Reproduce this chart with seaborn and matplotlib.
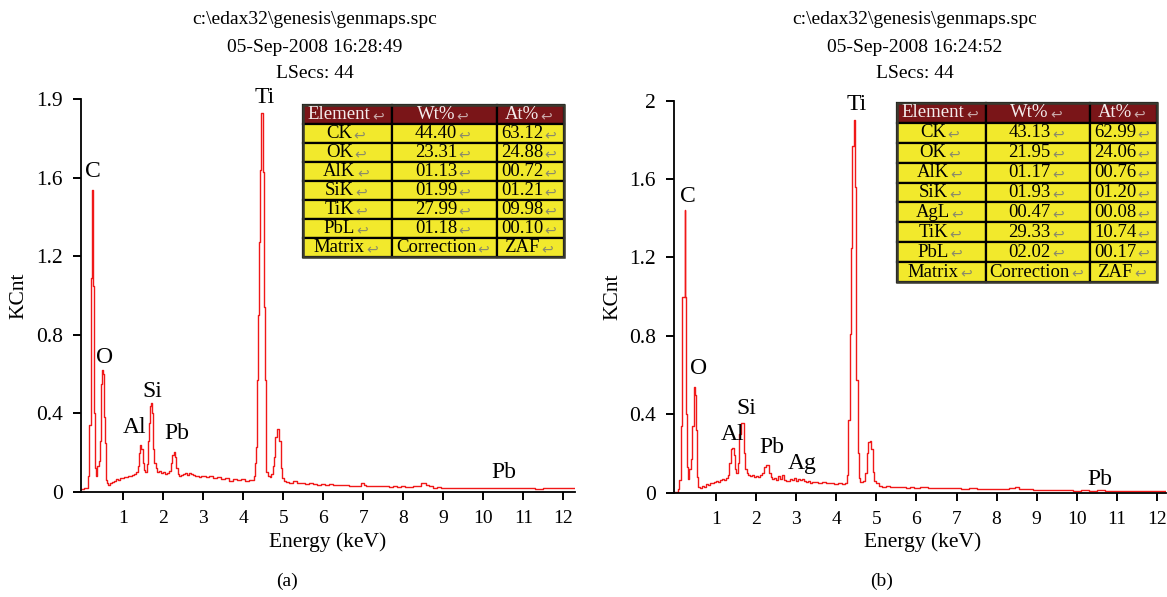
import matplotlib
matplotlib.use("Agg")
import matplotlib.pyplot as plt
import seaborn as sns
from matplotlib.patches import Rectangle

# --- data ---
# (a) spectrum: energy (keV) / counts (KCnt)
energy_a = [-0.05, 0.00, 0.05, 0.10, 0.13, 0.16, 0.20, 0.235, 0.265, 0.29, 0.315, 0.335, 0.365,
            0.40, 0.425, 0.45, 0.475, 0.50, 0.525, 0.55, 0.575, 0.60, 0.65, 0.70, 0.75, 0.80,
            0.85, 0.90, 0.95, 1.00, 1.05, 1.10, 1.15, 1.20, 1.25, 1.30, 1.34, 1.375, 1.40, 1.43,
            1.47, 1.50, 1.53, 1.57, 1.60, 1.63, 1.66, 1.68, 1.71, 1.73, 1.76, 1.79, 1.83, 1.875,
            1.92, 1.97, 2.02, 2.07, 2.12, 2.17, 2.20, 2.24, 2.27, 2.30, 2.34, 2.38, 2.42, 2.47,
            2.52, 2.57, 2.62, 2.67, 2.72, 2.77, 2.82, 2.87, 2.92, 2.97, 3.02, 3.10, 3.20, 3.30,
            3.40, 3.50, 3.60, 3.70, 3.80, 3.90, 4.00, 4.10, 4.20, 4.26, 4.29, 4.31, 4.33, 4.355,
            4.38, 4.40, 4.42, 4.45, 4.48, 4.50, 4.52, 4.545, 4.565, 4.59, 4.63, 4.68, 4.72, 4.75,
            4.78, 4.82, 4.87, 4.91, 4.95, 4.99, 5.03, 5.10, 5.20, 5.30, 5.40, 5.50, 5.60, 5.70,
            5.80, 5.90, 6.00, 6.10, 6.20, 6.30, 6.40, 6.50, 6.60, 6.70, 6.80, 6.90, 7.00, 7.05,
            7.10, 7.20, 7.30, 7.40, 7.50, 7.60, 7.70, 7.80, 7.90, 8.00, 8.10, 8.20, 8.30, 8.40,
            8.50, 8.55, 8.60, 8.70, 8.80, 8.90, 9.00, 9.20, 9.40, 9.60, 9.80, 10.00, 10.20, 10.40,
            10.60, 10.80, 11.00, 11.20, 11.40, 11.60, 11.80, 12.00, 12.20, 12.30]
counts_a = [0.015, 0.015, 0.018, 0.02, 0.08, 0.34, 1.09, 1.535, 1.05, 0.40, 0.12, 0.08, 0.13,
            0.16, 0.26, 0.55, 0.62, 0.60, 0.38, 0.25, 0.06, 0.045, 0.038, 0.045, 0.052, 0.058,
            0.065, 0.062, 0.072, 0.070, 0.078, 0.075, 0.082, 0.080, 0.088, 0.092, 0.100, 0.13, 0.20, 0.24,
            0.22, 0.15, 0.11, 0.10, 0.14, 0.26, 0.35, 0.44, 0.455, 0.40, 0.22, 0.15, 0.12, 0.10,
            0.108, 0.095, 0.10, 0.09, 0.098, 0.105, 0.15, 0.19, 0.205, 0.18, 0.12, 0.09, 0.08, 0.085,
            0.09, 0.095, 0.088, 0.098, 0.092, 0.085, 0.08, 0.083, 0.078, 0.082, 0.079, 0.076, 0.08, 0.072,
            0.075, 0.068, 0.072, 0.056, 0.068, 0.06, 0.065, 0.058, 0.062, 0.06, 0.08, 0.15, 0.23, 0.57,
            0.90, 1.27, 1.64, 1.93, 1.93, 1.63, 0.94, 0.57, 0.23, 0.10, 0.08, 0.075, 0.09, 0.13,
            0.18, 0.28, 0.32, 0.26, 0.12, 0.07, 0.055, 0.052, 0.048, 0.055, 0.045, 0.046, 0.042, 0.044,
            0.040, 0.038, 0.040, 0.036, 0.039, 0.035, 0.036, 0.034, 0.035, 0.032, 0.031, 0.033, 0.045, 0.038,
            0.030, 0.031, 0.029, 0.030, 0.028, 0.030, 0.027, 0.029, 0.026, 0.028, 0.027, 0.026, 0.028, 0.032,
            0.045, 0.048, 0.038, 0.028, 0.022, 0.024, 0.021, 0.022, 0.020, 0.022, 0.019, 0.021, 0.020, 0.021,
            0.019, 0.020, 0.018, 0.020, 0.017, 0.019, 0.018, 0.019, 0.018, 0.018]

# (b) spectrum
energy_b = [-0.05, 0.02, 0.07, 0.10, 0.135, 0.165, 0.20, 0.225, 0.245, 0.265, 0.29, 0.315, 0.35,
            0.39, 0.43, 0.465, 0.495, 0.515, 0.535, 0.57, 0.62, 0.67, 0.72, 0.77, 0.82, 0.87,
            0.92, 0.97, 1.02, 1.07, 1.12, 1.17, 1.22, 1.27, 1.31, 1.35, 1.39, 1.42, 1.45, 1.48,
            1.52, 1.56, 1.60, 1.63, 1.67, 1.70, 1.74, 1.78, 1.83, 1.88, 1.93, 1.98, 2.03, 2.08,
            2.13, 2.18, 2.22, 2.26, 2.30, 2.34, 2.38, 2.43, 2.48, 2.53, 2.58, 2.62, 2.67, 2.72,
            2.77, 2.82, 2.87, 2.92, 2.97, 3.02, 3.07, 3.12, 3.17, 3.22, 3.27, 3.32, 3.37, 3.42,
            3.50, 3.60, 3.70, 3.80, 3.90, 4.00, 4.10, 4.20, 4.24, 4.27, 4.31, 4.35, 4.38, 4.42,
            4.45, 4.48, 4.52, 4.55, 4.57, 4.63, 4.70, 4.74, 4.78, 4.82, 4.85, 4.89, 4.93, 4.97,
            5.02, 5.10, 5.20, 5.30, 5.40, 5.50, 5.60, 5.70, 5.80, 5.90, 6.00, 6.20, 6.40, 6.60,
            6.80, 7.00, 7.20, 7.40, 7.60, 7.80, 8.00, 8.20, 8.40, 8.50, 8.60, 8.80, 9.00, 9.20,
            9.40, 9.60, 9.80, 10.00, 10.20, 10.40, 10.60, 10.80, 11.00, 11.20, 11.40, 11.60, 11.80, 12.00,
            12.25]
counts_b = [0.002, 0.005, 0.02, 0.065, 0.34, 1.00, 1.00, 1.44, 1.00, 0.40, 0.13, 0.07, 0.12,
            0.17, 0.34, 0.54, 0.50, 0.32, 0.08, 0.03, 0.025, 0.032, 0.030, 0.042, 0.040, 0.050,
            0.047, 0.056, 0.060, 0.055, 0.064, 0.070, 0.066, 0.075, 0.09, 0.15, 0.22, 0.225, 0.19, 0.12,
            0.10, 0.15, 0.30, 0.355, 0.355, 0.20, 0.12, 0.10, 0.09, 0.085, 0.09, 0.08, 0.086, 0.078,
            0.09, 0.10, 0.13, 0.14, 0.14, 0.10, 0.08, 0.07, 0.075, 0.065, 0.085, 0.07, 0.088, 0.065,
            0.06, 0.058, 0.07, 0.066, 0.075, 0.06, 0.068, 0.062, 0.07, 0.058, 0.055, 0.06, 0.05, 0.056,
            0.052, 0.05, 0.054, 0.048, 0.05, 0.045, 0.048, 0.042, 0.05, 0.09, 0.37, 0.81, 1.25, 1.77,
            1.90, 1.56, 0.575, 0.20, 0.073, 0.056, 0.06, 0.10, 0.20, 0.26, 0.265, 0.22, 0.107, 0.06,
            0.048, 0.035, 0.030, 0.035, 0.028, 0.030, 0.026, 0.028, 0.025, 0.027, 0.024, 0.026, 0.022, 0.024,
            0.021, 0.023, 0.020, 0.021, 0.018, 0.020, 0.017, 0.019, 0.024, 0.029, 0.020, 0.016, 0.014, 0.013,
            0.015, 0.011, 0.012, 0.010, 0.011, 0.010, 0.011, 0.008, 0.009, 0.008, 0.008, 0.007, 0.008, 0.007,
            0.007]

# y tick labels as printed by the EDAX software
ytick_vals = [0, 0.4, 0.8, 1.2, 1.6, 2.0]
ytick_labels_a = ['0', '0.4', '0.8', '1.2', '1.6', '1.9']
ytick_labels_b = ['0', '0.4', '0.8', '1.2', '1.6', '2']
xtick_vals = list(range(1, 13))

# quantification tables
elements_a = ['CK', 'OK', 'AlK', 'SiK', 'TiK', 'PbL', 'Matrix']
wt_a = ['44.40', '23.31', '01.13', '01.99', '27.99', '01.18', 'Correction']
at_a = ['63.12', '24.88', '00.72', '01.21', '09.98', '00.10', 'ZAF']

elements_b = ['CK', 'OK', 'AlK', 'SiK', 'AgL', 'TiK', 'PbL', 'Matrix']
wt_b = ['43.13', '21.95', '01.17', '01.93', '00.47', '29.33', '02.02', 'Correction']
at_b = ['62.99', '24.06', '00.76', '01.20', '00.08', '10.74', '00.17', 'ZAF']

header = ['Element', 'Wt%', 'At%']

# peak label names
peaks_a = ['C', 'O', 'Al', 'Si', 'Pb', 'Ti', 'Pb']
peaks_b = ['C', 'O', 'Al', 'Si', 'Pb', 'Ag', 'Ti', 'Pb']

title_a = ['c:\\edax32\\genesis\\genmaps.spc', '05-Sep-2008 16:28:49', 'LSecs: 44']
title_b = ['c:\\edax32\\genesis\\genmaps.spc', '05-Sep-2008 16:24:52', 'LSecs: 44']

sns.set_theme(style="ticks")
plt.rcParams['font.family'] = ['Liberation Serif', 'DejaVu Sans']

line_color = '#F01818'
header_color = '#7A1518'
cell_color = '#F2E92C'

fig = plt.figure(figsize=(11.67, 5.97), dpi=100)
ax_a = fig.add_axes([0.0694, 0.1759, 0.4233, 0.6583])
ax_b = fig.add_axes([0.5776, 0.1750, 0.4216, 0.6563])


def style_axis(ax, xlim, ylabels, xlab_x):
    ax.set_xlim(*xlim)
    ax.set_ylim(0, 2.0)
    ax.set_yticks(ytick_vals)
    ax.set_yticklabels(ylabels)
    ax.set_xticks(xtick_vals)
    ax.tick_params(axis='y', direction='out', length=6, width=1.4, pad=7,
                   labelsize=15.5, color='black', labelcolor='black')
    ax.tick_params(axis='x', direction='out', length=6, width=1.4, pad=7,
                   labelsize=14, color='black', labelcolor='black')
    for s in ['top', 'right']:
        ax.spines[s].set_visible(False)
    for s in ['left', 'bottom']:
        ax.spines[s].set_color('black')
        ax.spines[s].set_linewidth(1.3)
    ax.set_xlabel('Energy (keV)', fontsize=15.5, color='black')
    ax.set_ylabel('KCnt', fontsize=15.5, color='black')
    ax.xaxis.set_label_coords(xlab_x, -0.102)
    ax.yaxis.set_label_coords(-0.125, 0.5)
    ax.yaxis.label.set_va('center')
    ax.set_facecolor('white')


sns.lineplot(x=energy_a, y=counts_a, ax=ax_a, color=line_color, lw=1.0,
             drawstyle='steps-mid', sort=False)
sns.lineplot(x=energy_b, y=counts_b, ax=ax_b, color=line_color, lw=1.0,
             drawstyle='steps-mid', sort=False)

style_axis(ax_a, (-0.06, 12.29), ytick_labels_a, 0.5)
style_axis(ax_b, (-0.05, 12.23), ytick_labels_b, 0.506)

# peak labels (data coordinates)
pos_a = [(0.235, 1.63), (0.52, 0.685), (1.29, 0.33), (1.735, 0.513),
         (2.33, 0.296), (4.54, 2.01), (10.5, 0.097)]
pos_b = [(0.283, 1.51), (0.56, 0.634), (1.42, 0.294), (1.75, 0.43),
         (2.39, 0.23), (3.16, 0.15), (4.5, 1.98), (10.57, 0.066)]
for ax, names, pos in [(ax_a, peaks_a, pos_a), (ax_b, peaks_b, pos_b)]:
    for name, (px, py) in zip(names, pos):
        ax.text(px, py, name, ha='center', va='center', fontsize=17,
                color='black', clip_on=False)

# header lines above each panel
for tx, lines in [(0.27, title_a), (0.784, title_b)]:
    for ty, line in zip([0.9665, 0.9196, 0.8777], lines):
        fig.text(tx, ty, line, ha='center', va='center', fontsize=14, color='black')

fig.text(0.2459, 0.0268, '(a)', ha='center', va='center', fontsize=14, color='black')
fig.text(0.7558, 0.0268, '(b)', ha='center', va='center', fontsize=14, color='black')


def draw_table(rect, rows):
    tax = fig.add_axes(rect)
    tax.set_xlim(0, 1)
    tax.set_ylim(len(rows), 0)
    tax.axis('off')
    edges = [0, 0.342, 0.742, 1.0]
    for r, row in enumerate(rows):
        fill = header_color if r == 0 else cell_color
        txt_c = '#F4ECEC' if r == 0 else 'black'
        arr_c = '#C9A9A9' if r == 0 else '#8A8A6A'
        for c in range(3):
            tax.add_patch(Rectangle((edges[c], r), edges[c + 1] - edges[c], 1,
                                    facecolor=fill, edgecolor='black', lw=1.6,
                                    clip_on=False))
            cx = (edges[c] + edges[c + 1]) / 2
            t = tax.annotate(row[c], xy=(cx, r + 0.5), xytext=(-6, 0),
                             textcoords='offset points', ha='center', va='center',
                             fontsize=13.5, color=txt_c)
            tax.annotate('\u21a9', xy=(1, 0.4), xycoords=t, xytext=(1, 0),
                         textcoords='offset points', ha='left', va='center',
                         fontsize=10, color=arr_c, family='DejaVu Sans')
    tax.add_patch(Rectangle((0, 0), 1, len(rows), facecolor='none',
                            edgecolor='#3A3A30', lw=1.8, clip_on=False))


rows_a = [header] + [list(r) for r in zip(elements_a, wt_a, at_a)]
rows_b = [header] + [list(r) for r in zip(elements_b, wt_b, at_b)]
draw_table([0.2596, 0.5695, 0.2237, 0.2546], rows_a)
draw_table([0.7686, 0.5276, 0.2228, 0.2998], rows_b)

fig.savefig('out.png', dpi=100, facecolor='white')
